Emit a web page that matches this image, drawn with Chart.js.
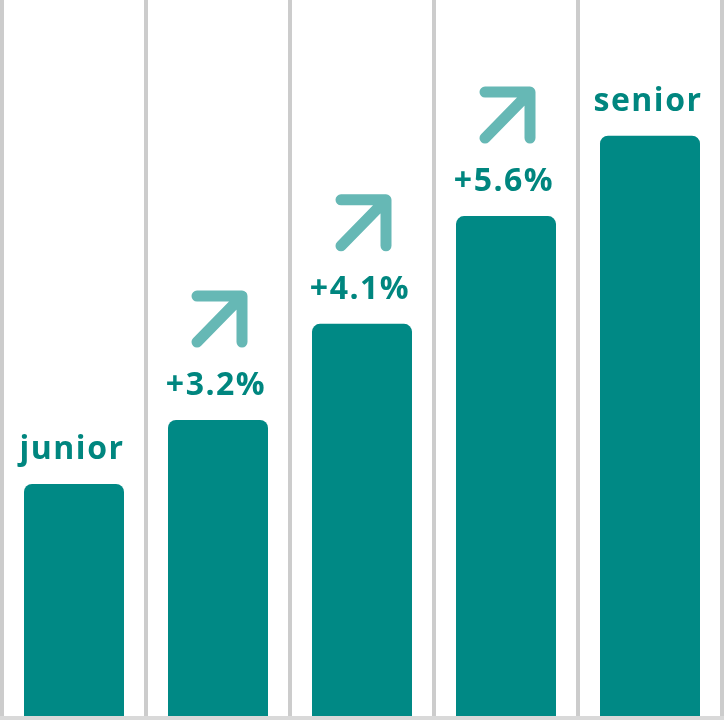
<!DOCTYPE html>
<html>
<head>
<meta charset="utf-8">
<script src="https://cdn.jsdelivr.net/npm/chart.js@4"></script>
<style>
  html, body { margin: 0; padding: 0; background: #ffffff; }
  #wrap { width: 724px; height: 720px; }
</style>
</head>
<body>
<div id="wrap"><canvas id="c" width="724" height="720"></canvas></div>
<script>
const categories = ["junior", "step 2", "step 3", "step 4", "senior"];
const values = [32.6, 41.5, 54.9, 69.9, 81.1];
const topLabels = ["junior", "+3.2%", "+4.1%", "+5.6%", "senior"];
const showArrow = [false, true, true, true, false];
const yMax = 100;

const BAR = "#008985";
const TEXT = "#00867f";
const ARROW = "#66b8b5";
const FONT = "700 32px 'Open Sans'";

const labelPlugin = {
  id: "topLabels",
  afterDatasetsDraw(chart) {
    const ctx = chart.ctx;
    const meta = chart.getDatasetMeta(0);
    ctx.save();
    meta.data.forEach((bar, i) => {
      const cx = bar.x;
      const baseline = bar.y - 25;
      ctx.font = FONT;
      ctx.fillStyle = TEXT;
      ctx.textAlign = "center";
      ctx.textBaseline = "alphabetic";
      if ("letterSpacing" in ctx) ctx.letterSpacing = "1.5px";
      ctx.fillText(topLabels[i], cx - 2, baseline);
      if (showArrow[i]) {
        const l = cx - 21, r = cx + 24, t = baseline - 99, b = baseline - 53;
        ctx.strokeStyle = ARROW;
        ctx.lineWidth = 11;
        ctx.lineCap = "round";
        ctx.lineJoin = "round";
        ctx.beginPath();
        ctx.moveTo(l, b);
        ctx.lineTo(r, t);
        ctx.moveTo(l, t);
        ctx.lineTo(r, t);
        ctx.lineTo(r, b);
        ctx.stroke();
      }
    });
    ctx.restore();
  }
};

new Chart(document.getElementById("c"), {
  type: "bar",
  data: {
    labels: categories,
    datasets: [{
      data: values,
      backgroundColor: BAR,
      borderRadius: { topLeft: 8, topRight: 8, bottomLeft: 0, bottomRight: 0 },
      borderSkipped: "bottom",
      categoryPercentage: 1,
      barPercentage: 100 / 144
    }]
  },
  options: {
    responsive: false,
    animation: false,
    devicePixelRatio: 1,
    layout: { padding: { left: 2, right: 2, top: 0, bottom: 2 } },
    plugins: { legend: { display: false }, tooltip: { enabled: false } },
    scales: {
      x: {
        display: true,
        afterFit(scale) { scale.height = 0; },
        ticks: { display: false },
        grid: { display: true, offset: true, color: "#cccccc", lineWidth: 4, drawTicks: false },
        border: { display: true, color: "#d9d9d9", width: 4, z: 1 }
      },
      y: {
        display: false,
        min: 0,
        max: yMax
      }
    }
  },
  plugins: [labelPlugin]
});
</script>
</body>
</html>
